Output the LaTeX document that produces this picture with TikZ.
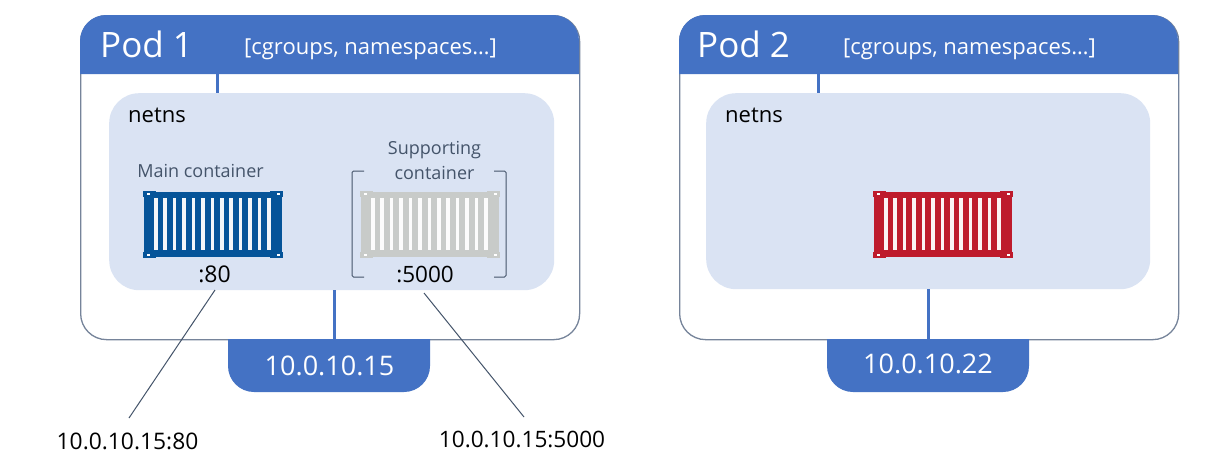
\documentclass[tikz,border=0pt]{standalone}
\usepackage{fontspec}
\setmainfont{Open Sans}
\definecolor{podblue}{HTML}{4472C4}
\definecolor{netbg}{HTML}{DAE3F3}
\definecolor{slate}{HTML}{44546A}
\definecolor{podedge}{HTML}{76849A}
\definecolor{boxblue}{HTML}{055499}
\definecolor{boxgrey}{HTML}{C8CBC9}
\definecolor{boxred}{HTML}{BE1B2C}
\newcommand{\fs}[1]{\fontsize{#1}{#1}\selectfont}
\tikzset{
  podbody/.style={draw=podedge,line width=1.3pt,fill=white},
  headfill/.style={fill=podblue,draw=none},
  nsbox/.style={fill=netbg,draw=none,rounded corners=30pt},
  link/.style={draw=podblue,line width=3pt},
  leader/.style={draw=slate,line width=1pt},
  bracket/.style={draw=slate,line width=1pt,rounded corners=1.5pt},
  txtwhite/.style={text=white,inner sep=0pt},
  txtblack/.style={text=black,inner sep=0pt},
  txtslate/.style={text=slate,inner sep=0pt,align=center},
}
% \cargo{left}{top}{colour}
\newcommand{\cargo}[3]{%
  \begin{scope}[shift={(#1,#2)}]
    \fill[#3] (1,1) rectangle (139,66);
    \foreach \cx/\cy in {0/0,127/0,0/61,127/61}{
      \fill[#3] (\cx,\cy) rectangle ++(13,6);
      \fill[white] (\cx+3.5+\cx*0.03,\cy+2) rectangle ++(3,2);
    }
    \foreach \i in {0,...,12}{
      \fill[white,opacity=.95] (11+\i*9.42,7) rectangle ++(3.6,52);
    }
  \end{scope}}
\begin{document}
\begin{tikzpicture}[x=1pt,y=-1pt]
\useasboundingbox (0,0) rectangle (1232,464);
\fill[white] (0,0) rectangle (1232,464);

% Pod 1
\node[podbody,rounded corners=26pt,minimum width=499pt,minimum height=324pt,inner sep=0pt,anchor=north west] (pod1) at (80,15) {};
\fill[headfill,rounded corners=26pt] (80,74) [sharp corners] -- (80,60) [rounded corners=26pt] -- (80,15) -- (579,15) -- (579,60) [sharp corners] -- (579,74) -- cycle;
\node[nsbox,minimum width=445pt,minimum height=197pt,inner sep=0pt,anchor=north west] (ns1) at (109,93) {};
\coordinate (h1) at (217,74);
\coordinate (n1t) at (217,93);
\draw[link] (h1) -- (n1t);
\fill[headfill] (228,339) -- (430,339) -- (430,366) arc[start angle=0,end angle=90,radius=26] -- (254,392) arc[start angle=90,end angle=180,radius=26] -- cycle;
\coordinate (n1b) at (334,290);
\coordinate (ip1t) at (334,339);
\draw[link] (n1b) -- (ip1t);
\node[txtwhite,anchor=base west] (podname1) at (100,57) {\fs{35}Pod 1};
\node[txtwhite,anchor=base west] (attrs1) at (244,54) {\fs{22}[cgroups, namespaces…]};
\node[txtblack,anchor=base west] (netns1) at (128,122) {\fs{22}netns};
\node[txtslate,anchor=base] (mainlbl) at (200.5,177) {\fs{18}Main container};
\node[txtslate,anchor=center,font=\fontsize{18}{24.5}\selectfont] (suplbl) at (434.5,160.5) {Supporting\\container};
\cargo{143}{191}{boxblue}
\cargo{360}{191}{boxgrey}
\draw[bracket] (364,171) -- (352,171) -- (352,277) -- (364,277);
\draw[bracket] (494,171) -- (506,171) -- (506,277) -- (494,277);
\node[txtblack,anchor=base] (p80) at (214.5,282) {\fs{23}:80};
\node[txtblack,anchor=base] (p5000) at (425,282) {\fs{22.5}:5000};
\node[txtwhite,anchor=base] (ip1) at (329.5,375) {\fs{27}10.0.10.15};
\node[txtblack,anchor=base] (full80) at (127.5,449) {\fs{22.8}10.0.10.15:80};
\node[txtblack,anchor=base] (full5000) at (522,447) {\fs{22.6}10.0.10.15:5000};
\coordinate (l80a) at (215,290);
\coordinate (l80b) at (129,418);
\coordinate (l5a) at (424,293);
\coordinate (l5b) at (524,417);
\draw[leader] (l80a) -- (l80b);
\draw[leader] (l5a) -- (l5b);

% Pod 2
\node[podbody,rounded corners=26pt,minimum width=499pt,minimum height=324pt,inner sep=0pt,anchor=north west] (pod2) at (679,15) {};
\fill[headfill,rounded corners=26pt] (679,74) [sharp corners] -- (679,60) [rounded corners=26pt] -- (679,15) -- (1178,15) -- (1178,60) [sharp corners] -- (1178,74) -- cycle;
\node[nsbox,minimum width=444pt,minimum height=196pt,inner sep=0pt,anchor=north west] (ns2) at (706,93) {};
\coordinate (h2) at (818,74);
\coordinate (n2t) at (818,93);
\draw[link] (h2) -- (n2t);
\fill[headfill] (827,339) -- (1029,339) -- (1029,366) arc[start angle=0,end angle=90,radius=26] -- (853,392) arc[start angle=90,end angle=180,radius=26] -- cycle;
\coordinate (n2b) at (928,289);
\coordinate (ip2t) at (928,339);
\draw[link] (n2b) -- (ip2t);
\node[txtwhite,anchor=base west] (podname2) at (697,57) {\fs{35}Pod 2};
\node[txtwhite,anchor=base west] (attrs2) at (843,54) {\fs{22}[cgroups, namespaces…]};
\node[txtblack,anchor=base west] (netns2) at (725,122) {\fs{22}netns};
\cargo{873}{191}{boxred}
\node[txtwhite,anchor=base] (ip2) at (928,373) {\fs{27}10.0.10.22};
\end{tikzpicture}
\end{document}
